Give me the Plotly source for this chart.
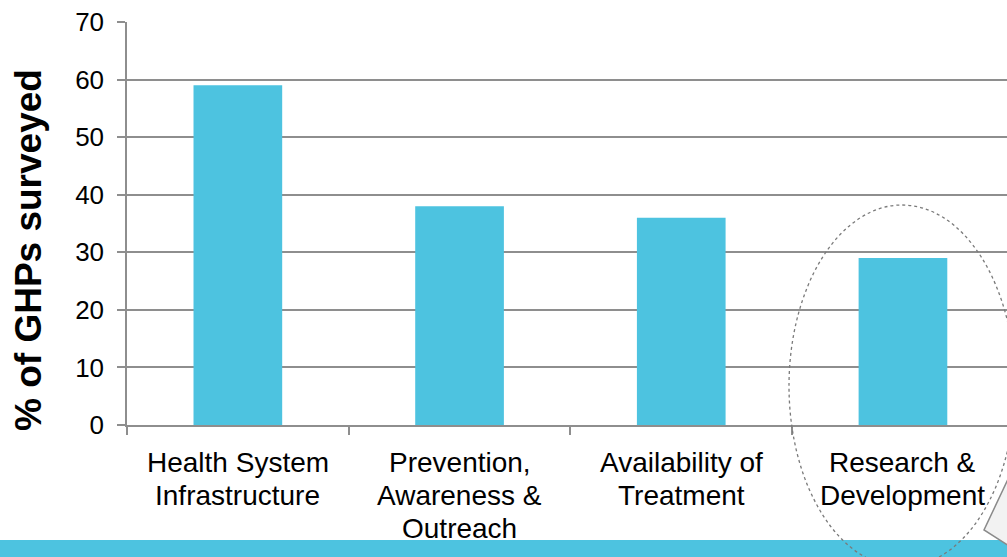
import plotly.graph_objects as go

# Survey results: share of GHPs naming each focus area
categories = [
    "Health System\nInfrastructure",
    "Prevention,\nAwareness &\nOutreach",
    "Availability of\nTreatment",
    "Research &\nDevelopment",
]
values = [59, 38, 36, 29]
y_ticks = [0, 10, 20, 30, 40, 50, 60, 70]

BAR = "#4DC3E0"
GRID = "#8E8E8E"
FONT = "Liberation Sans, Arial, sans-serif"

W, H = 1007, 557
L, R, T, B = 127, 0, 22, 132
PW, PH = W - L - R, H - T - B

cat_keys = [c.replace("\n", " ") for c in categories]


def px_x(px):
    return (px - L) / PW


def px_y(py):
    return (H - B - py) / PH


fig = go.Figure(
    go.Bar(
        x=cat_keys,
        y=values,
        width=0.4,
        marker=dict(color=BAR, line=dict(width=0)),
    )
)

# category labels, one annotation per line for tighter line spacing
annotations = []
for i, label in enumerate(categories):
    for j, line in enumerate(label.split("\n")):
        annotations.append(dict(
            x=i, y=0, xref="x", yref="y",
            text=line, showarrow=False,
            yanchor="middle", xanchor="center",
            yshift=-(37 + 33 * j),
            font=dict(family=FONT, size=28, color="#000000"),
        ))

# rotated axis title
annotations.append(dict(
    x=px_x(28), y=px_y(250), xref="paper", yref="paper",
    text="<b>% of GHPs surveyed</b>", showarrow=False, textangle=-90,
    xanchor="center", yanchor="middle",
    font=dict(family=FONT, size=37, color="#000000"),
))

shapes = [
    # bottom banner
    dict(type="rect", xref="paper", yref="paper",
         x0=px_x(0), x1=px_x(W), y0=px_y(H), y1=px_y(540),
         fillcolor=BAR, line=dict(width=0), layer="above"),
    # highlight around the last category
    dict(type="circle", xref="paper", yref="paper",
         x0=px_x(789), x1=px_x(1015), y0=px_y(567), y1=px_y(205),
         line=dict(color="#7A7A7A", width=1.3, dash="dot"),
         fillcolor="rgba(0,0,0,0)", layer="above"),
    # callout pointer
    dict(type="path", xref="paper", yref="paper",
         path=(f"M {px_x(1009)},{px_y(477)} L {px_x(984)},{px_y(530)} "
               f"L {px_x(1009)},{px_y(546)} Z"),
         fillcolor="#F2F2F2", line=dict(color="#8A8A8A", width=1.5),
         layer="above"),
]

fig.update_layout(
    width=W, height=H,
    margin=dict(l=L, r=R, t=T, b=B, pad=0),
    paper_bgcolor="white", plot_bgcolor="white",
    showlegend=False,
    annotations=annotations,
    shapes=shapes,
    xaxis=dict(
        type="category",
        range=[-0.5, -0.5 + PW / 221.7],
        showticklabels=False,
        tickson="boundaries", ticks="outside", ticklen=8,
        tickcolor=GRID, tickwidth=1.5,
        showline=True, linecolor=GRID, linewidth=1.5,
        showgrid=False, zeroline=False, fixedrange=True,
    ),
    yaxis=dict(
        range=[0, 70], tickmode="array", tickvals=y_ticks,
        ticks="outside", ticklen=8, tickcolor=GRID, tickwidth=1.5,
        showline=True, linecolor=GRID, linewidth=1.5,
        showgrid=True, gridcolor=GRID, gridwidth=1.5,
        zeroline=False,
        tickfont=dict(family=FONT, size=26, color="#000000"),
        ticklabelstandoff=8,
    ),
)

fig.write_html("out.html")
